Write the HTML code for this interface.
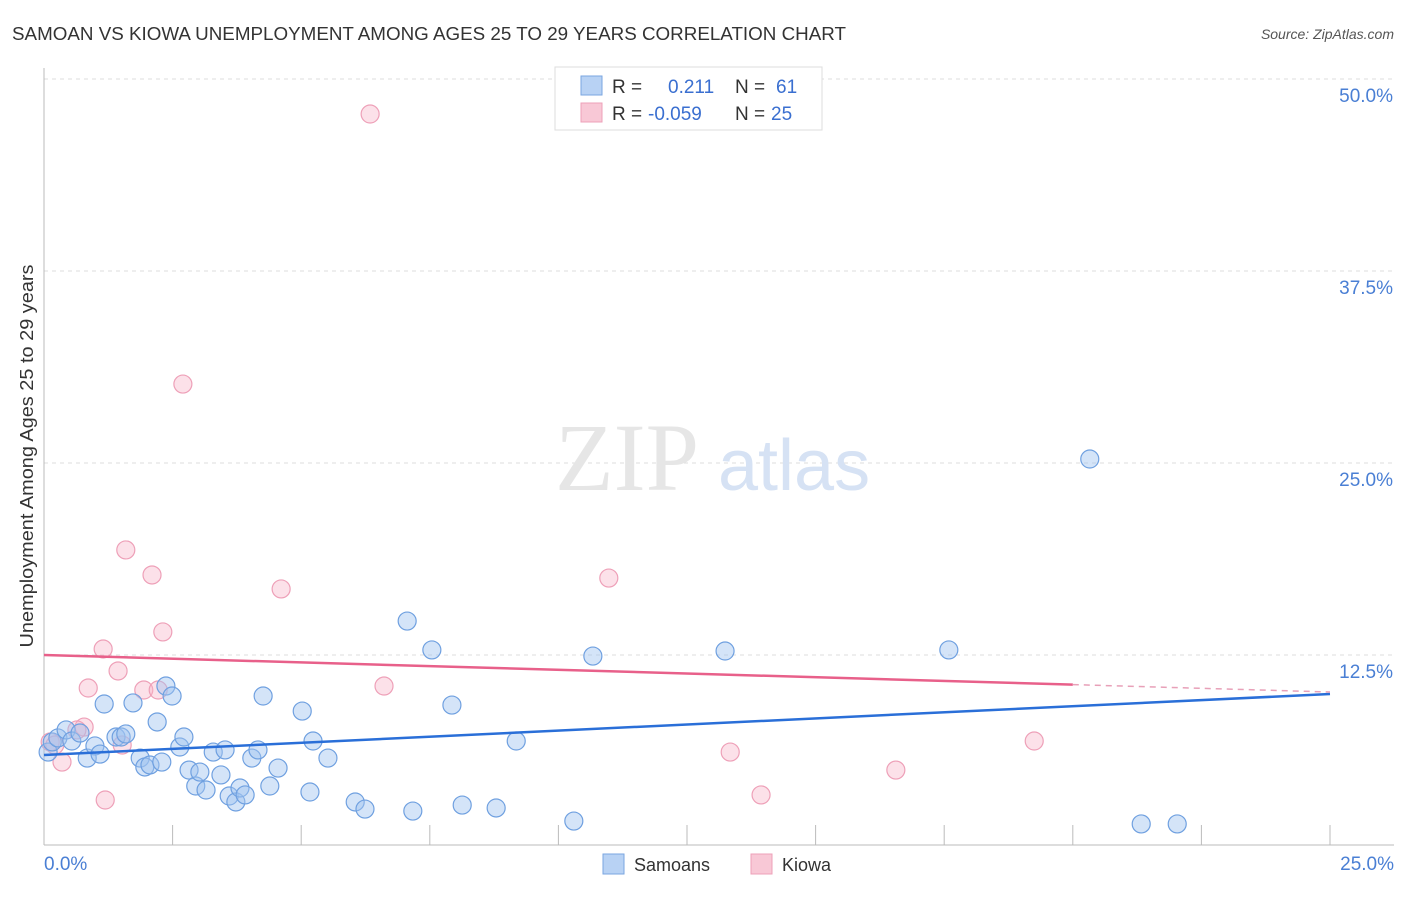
<!DOCTYPE html>
<html><head><meta charset="utf-8"><style>
body{margin:0;background:#fff;font-family:"Liberation Sans",sans-serif}
</style></head><body>
<svg width="1406" height="892" xmlns="http://www.w3.org/2000/svg" font-family="Liberation Sans, sans-serif">
<text x="12" y="40" font-size="18" fill="#333" textLength="834" lengthAdjust="spacingAndGlyphs">SAMOAN VS KIOWA UNEMPLOYMENT AMONG AGES 25 TO 29 YEARS CORRELATION CHART</text>
<text x="1394" y="39" font-size="14" fill="#555" font-style="italic" text-anchor="end">Source: ZipAtlas.com</text>
<g id="grid"></g>
<text x="555" y="490" font-size="96" fill="#e6e6e6" font-family="Liberation Serif, serif">ZIP</text>
<text x="718" y="490" font-size="72" fill="#d6e2f4">atlas</text>
<g id="marks"></g>
<text x="33" y="456" font-size="18" fill="#333" text-anchor="middle" textLength="383" lengthAdjust="spacingAndGlyphs" transform="rotate(-90 33 456)">Unemployment Among Ages 25 to 29 years</text>
<text x="44" y="870" font-size="19" fill="#4a7fd4">0.0%</text>
<text x="1394" y="870" font-size="19" fill="#4a7fd4" text-anchor="end">25.0%</text>
<g>
<rect x="555" y="67" width="267" height="63" fill="#fff" stroke="#ddd"/>
<rect x="581" y="76" width="21" height="19" fill="#b8d2f4" stroke="#7aa6e0"/>
<rect x="581" y="103" width="21" height="19" fill="#f8c8d6" stroke="#eea0b8"/>
<text x="612" y="93" font-size="19" fill="#333">R =</text><text x="668" y="93" font-size="19" fill="#3a6fd0">0.211</text>
<text x="735" y="93" font-size="19" fill="#333">N =</text><text x="776" y="93" font-size="19" fill="#3a6fd0">61</text>
<text x="612" y="120" font-size="19" fill="#333">R =</text><text x="648" y="120" font-size="19" fill="#3a6fd0">-0.059</text>
<text x="735" y="120" font-size="19" fill="#333">N =</text><text x="771" y="120" font-size="19" fill="#3a6fd0">25</text>
</g>
<g>
<rect x="603" y="854" width="21" height="20" fill="#b8d2f4" stroke="#7aa6e0"/>
<text x="634" y="871" font-size="18" fill="#333">Samoans</text>
<rect x="751" y="854" width="21" height="20" fill="#f8c8d6" stroke="#eea0b8"/>
<text x="782" y="871" font-size="18" fill="#333">Kiowa</text>
</g>
</svg>
<script>
const samoanX=[0.08,0.16,0.27,0.43,0.54,0.70,0.84,0.99,1.09,1.17,1.40,1.50,1.59,1.73,1.87,1.96,2.06,2.20,2.29,2.37,2.49,2.64,2.72,2.82,2.95,3.03,3.15,3.29,3.44,3.52,3.60,3.73,3.81,3.91,4.04,4.16,4.26,4.39,4.55,5.02,5.17,5.23,5.52,6.05,6.24,7.06,7.17,7.54,7.93,8.13,8.79,9.18,10.30,10.67,13.24,17.59,20.33,21.33,22.03];
const samoanY=[6.18,6.84,7.10,7.62,6.90,7.42,5.79,6.58,6.05,9.31,7.16,7.16,7.36,9.38,5.79,5.21,5.34,8.14,5.53,10.48,9.83,6.51,7.16,5.01,3.97,4.88,3.71,6.18,4.69,6.32,3.32,2.93,3.84,3.39,5.79,6.32,9.83,3.97,5.14,8.85,3.58,6.90,5.79,2.93,2.47,14.71,2.34,12.83,9.24,2.73,2.54,6.90,1.69,12.43,12.76,12.83,25.26,1.50,1.50];
const kiowaX=[6.34,2.70,1.59,2.10,4.61,10.98,2.31,1.15,1.44,0.86,1.94,2.22,6.61,0.78,0.64,0.12,0.35,1.52,1.19,13.34,13.94,16.56,19.25,0.21];
const kiowaY=[47.72,30.14,19.34,17.71,16.80,17.51,14.00,12.89,11.46,10.35,10.22,10.22,10.48,7.81,7.62,6.84,5.53,6.64,3.06,6.18,3.39,5.01,6.90,6.64];
const samoanTrend=[5.99,9.96];
const kiowaTrend=[12.5,10.09];
const yTicks=[12.5,25,37.5,50];
const yTickLabels=["12.5%","25.0%","37.5%","50.0%"];
const xTicks=[2.5,5,7.5,10,12.5,15,17.5,20,22.5,25];
const NS="http://www.w3.org/2000/svg";
const sx=v=>44+v/25*1286, sy=v=>847-v/12.5*192;
function mk(t,a,p){const e=document.createElementNS(NS,t);for(const k in a)e.setAttribute(k,a[k]);p.appendChild(e);return e;}
const g=document.getElementById('grid'), m=document.getElementById('marks');
yTicks.forEach((t,i)=>{
 const l=mk('line',{x1:44,x2:1394,y1:sy(t),y2:sy(t),stroke:'#ddd','stroke-dasharray':'4,4'},g);
 
 
 const tx=mk('text',{x:1393,y:sy(t)+23,'font-size':19,fill:'#4a7fd4','text-anchor':'end'},g);
 tx.textContent=yTickLabels[i];
 
 
});
const ax=mk('line',{x1:44,x2:1394,y1:845,y2:845,stroke:'#bbb'},g);


const ay=mk('line',{x1:44,x2:44,y1:68,y2:845,stroke:'#bbb'},g);


xTicks.forEach(t=>{
 const l=mk('line',{x1:sx(t),x2:sx(t),y1:825,y2:845,stroke:'#bbb'},g);
 
 
});
kiowaX.forEach((x,i)=>{
 const c=mk('circle',{cx:sx(x),cy:sy(kiowaY[i]),r:9,fill:'rgba(248,180,200,0.4)',stroke:'#eea0b8','stroke-width':1.2},m);
 
 
});
samoanX.forEach((x,i)=>{
 const c=mk('circle',{cx:sx(x),cy:sy(samoanY[i]),r:9,fill:'rgba(160,196,240,0.45)',stroke:'#6fa0e0','stroke-width':1.2},m);
 
 
});
const b=mk('line',{x1:sx(0),y1:sy(samoanTrend[0]),x2:sx(25),y2:sy(samoanTrend[1]),stroke:'#2a6fd8','stroke-width':2.5},m);


const kAt=x=>kiowaTrend[0]+(kiowaTrend[1]-kiowaTrend[0])*x/25;
const p1=mk('line',{x1:sx(0),y1:sy(kAt(0)),x2:sx(20),y2:sy(kAt(20)),stroke:'#e8608a','stroke-width':2.5},m);


const p2=mk('line',{x1:sx(20),y1:sy(kAt(20)),x2:sx(25),y2:sy(kAt(25)),stroke:'#e8a0b8','stroke-width':1.5,'stroke-dasharray':'6,5'},m);


</script>
</body></html>
